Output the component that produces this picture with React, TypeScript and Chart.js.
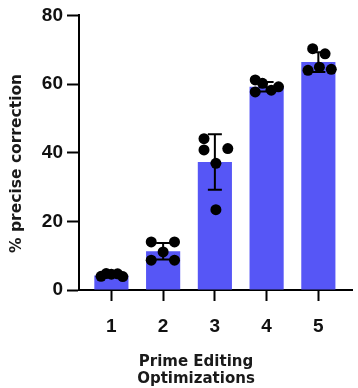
import React, { useEffect, useRef } from "react";
import { Chart, registerables } from "chart.js";

Chart.register(...registerables);

const categories = [1, 2, 3, 4, 5];
const means = [4.2, 11.3, 37.3, 59.2, 66.4];
const sds = [0.4, 2.4, 8.1, 1.4, 2.9];
const yTicks = [0, 20, 40, 60, 80];

const replicates = [
  [4.0, 4.8, 4.6, 4.7, 3.9],
  [14.0, 14.0, 11.1, 8.7, 8.7],
  [44.1, 40.8, 41.2, 36.9, 23.4],
  [61.2, 60.2, 57.7, 58.2, 59.2],
  [70.3, 68.8, 64.0, 64.9, 64.3],
];
const jitter = [
  [-0.2, -0.1, 0, 0.12, 0.22],
  [-0.23, 0.22, 0, -0.23, 0.22],
  [-0.21, -0.21, 0.25, 0.02, 0.02],
  [-0.22, -0.08, -0.22, 0.09, 0.23],
  [-0.11, 0.13, -0.2, 0.02, 0.25],
];

const xTitleLines = ["Prime Editing", "Optimizations"];
const yTitle = "% precise correction";

const BAR_COLOR = "#5656F6";
const X_TITLE_FONT = "bold 15px 'DejaVu Sans', Verdana, sans-serif";
const Y_TITLE_FONT = "bold 15.5px 'DejaVu Sans', Verdana, sans-serif";

const errorBarPlugin = {
  id: "errorBars",
  afterDatasetDraw(chart: any, args: any) {
    if (args.index !== 0) return;
    const ctx = chart.ctx;
    const xs = chart.scales.x;
    const ys = chart.scales.y;
    ctx.save();
    ctx.strokeStyle = "#000";
    ctx.lineWidth = 2;
    categories.forEach((c, i) => {
      const x = xs.getPixelForValue(c);
      const yT = ys.getPixelForValue(means[i] + sds[i]);
      const yB = ys.getPixelForValue(means[i] - sds[i]);
      const cap = 7;
      ctx.beginPath();
      ctx.moveTo(x, yT);
      ctx.lineTo(x, yB);
      ctx.moveTo(x - cap, yT);
      ctx.lineTo(x + cap, yT);
      ctx.moveTo(x - cap, yB);
      ctx.lineTo(x + cap, yB);
      ctx.stroke();
    });
    ctx.restore();
  },
};

const titlesPlugin = {
  id: "axisTitles",
  afterDraw(chart: any) {
    const ctx = chart.ctx;
    const area = chart.chartArea;
    ctx.save();
    ctx.fillStyle = "#1a1a1a";
    ctx.textAlign = "center";
    ctx.textBaseline = "alphabetic";
    ctx.font = X_TITLE_FONT;
    const cx = area.left + 117;
    ctx.fillText(xTitleLines[0], cx, area.bottom + 76);
    ctx.fillText(xTitleLines[1], cx, area.bottom + 93);
    ctx.font = Y_TITLE_FONT;
    ctx.translate(21, area.top + 148);
    ctx.rotate(-Math.PI / 2);
    ctx.fillText(yTitle, 0, 0);
    ctx.restore();
  },
};

export default function App() {
  const ref = useRef<HTMLCanvasElement | null>(null);
  useEffect(() => {
    document.body.style.margin = "0";
    const canvas = ref.current;
    if (!canvas) return;
    const scatterData: { x: number; y: number }[] = [];
    replicates.forEach((vals, i) =>
      vals.forEach((v, j) => scatterData.push({ x: categories[i] + jitter[i][j], y: v }))
    );
    const chart = new Chart(canvas, {
      type: "bar",
      data: {
        datasets: [
          {
            type: "bar",
            data: categories.map((c, i) => ({ x: c, y: means[i] })),
            backgroundColor: BAR_COLOR,
            borderWidth: 0,
            categoryPercentage: 1,
            barPercentage: 0.66,
            order: 2,
          } as any,
          {
            type: "scatter",
            data: scatterData,
            backgroundColor: "#000",
            borderWidth: 0,
            pointRadius: 5.5,
            order: 1,
          } as any,
        ],
      },
      options: {
        responsive: false,
        animation: false,
        layout: { padding: { top: 14, right: 0, left: 0, bottom: 0 } },
        plugins: { legend: { display: false }, tooltip: { enabled: false } },
        scales: {
          x: {
            type: "linear",
            min: 0.374,
            max: 5.66,
            offset: false,
            afterBuildTicks: (s: any) => {
              s.ticks = categories.map((v) => ({ value: v }));
            },
            afterFit: (s: any) => {
              s.height = 98;
            },
            grid: {
              display: true,
              drawOnChartArea: false,
              drawTicks: true,
              tickLength: 11,
              tickWidth: 2,
              tickColor: "#000",
              offset: false,
            },
            border: { display: true, color: "#000", width: 2 },
            ticks: {
              color: "#111",
              padding: 14,
              font: { family: "'Liberation Sans', Arial, sans-serif", size: 19, weight: "bold" },
              callback: (v: any) => String(v),
            },
          },
          y: {
            type: "linear",
            min: 0,
            max: 80,
            afterBuildTicks: (s: any) => {
              s.ticks = yTicks.map((v) => ({ value: v }));
            },
            afterFit: (s: any) => {
              s.width = 79;
            },
            grid: {
              display: true,
              drawOnChartArea: false,
              drawTicks: true,
              tickLength: 12,
              tickWidth: 2,
              tickColor: "#000",
            },
            border: { display: true, color: "#000", width: 2 },
            ticks: {
              color: "#111",
              padding: 4,
              font: { family: "'Liberation Sans', Arial, sans-serif", size: 19, weight: "bold" },
            },
          },
        },
      },
      plugins: [errorBarPlugin, titlesPlugin],
    });
    return () => chart.destroy();
  }, []);
  return (
    <div style={{ position: "fixed", left: 0, top: 0, width: 358, height: 388 }}>
      <canvas ref={ref} width={358} height={388} />
    </div>
  );
}
